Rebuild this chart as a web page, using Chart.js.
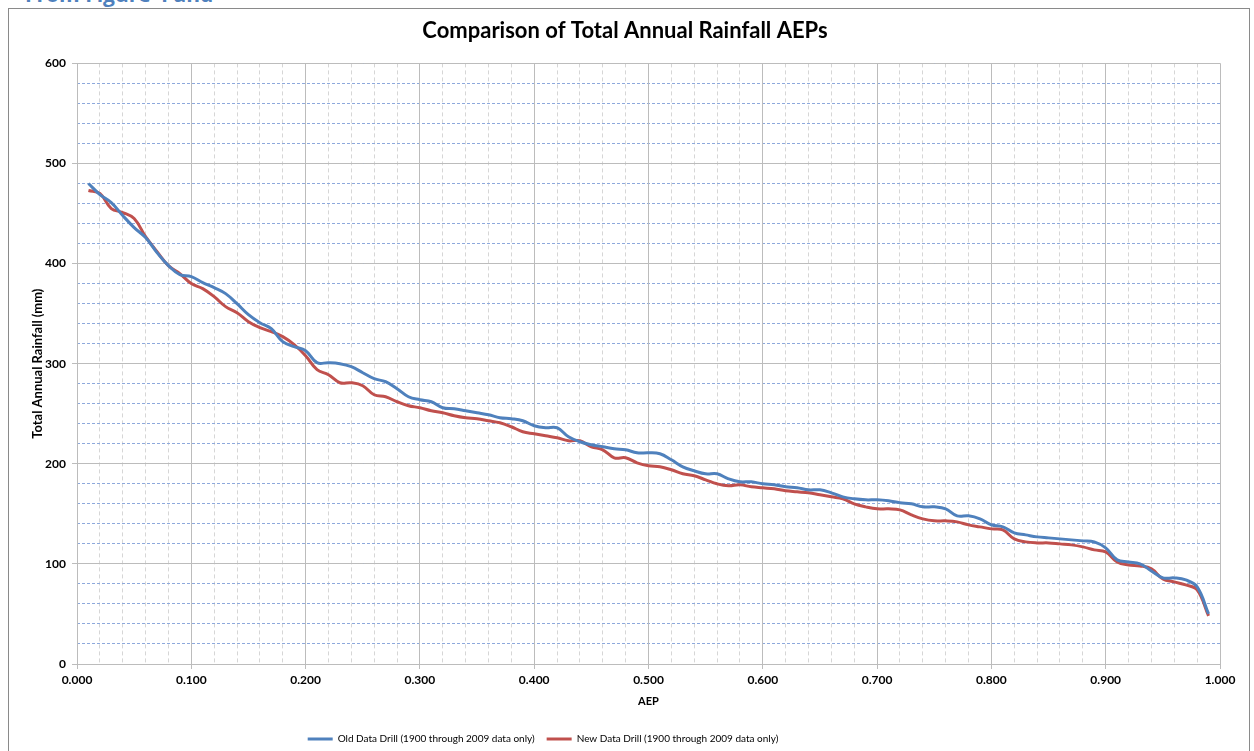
<!DOCTYPE html>
<html>
<head>
<meta charset="utf-8">
<script src="https://cdn.jsdelivr.net/npm/chart.js@4/dist/chart.umd.min.js"></script>
<style>
  html, body { margin: 0; padding: 0; background: #fff; width: 1254px; height: 751px; overflow: hidden; }
  #frame { position: absolute; left: 8px; top: 8px; width: 1242px; height: 760px; border: 1px solid #8a8a8a; box-sizing: border-box; }
  #caption { position: absolute; left: 25px; top: -20px; font: bold 21px "Open Sans", "Liberation Sans", sans-serif; color: #4f81bd; white-space: nowrap; }
  #wrap { position: absolute; left: 0; top: 0; width: 1254px; height: 751px; }
</style>
</head>
<body>
<div id="frame"></div>
<div id="caption">From Figure 4 and</div>
<div id="wrap"><canvas id="c" width="1254" height="751"></canvas></div>
<script>
const aep = [0.01,0.02,0.03,0.04,0.05,0.06,0.07,0.08,0.09,0.10,
  0.11,0.12,0.13,0.14,0.15,0.16,0.17,0.18,0.19,0.20,
  0.21,0.22,0.23,0.24,0.25,0.26,0.27,0.28,0.29,0.30,
  0.31,0.32,0.33,0.34,0.35,0.36,0.37,0.38,0.39,0.40,
  0.41,0.42,0.43,0.44,0.45,0.46,0.47,0.48,0.49,0.50,
  0.51,0.52,0.53,0.54,0.55,0.56,0.57,0.58,0.59,0.60,
  0.61,0.62,0.63,0.64,0.65,0.66,0.67,0.68,0.69,0.70,
  0.71,0.72,0.73,0.74,0.75,0.76,0.77,0.78,0.79,0.80,
  0.81,0.82,0.83,0.84,0.85,0.86,0.87,0.88,0.89,0.90,
  0.91,0.92,0.93,0.94,0.95,0.96,0.97,0.98,0.99];

const oldDrill = [480,469,461,448,436,426,411,398,389,387,
  381,376,370,360,349,341,335,322,317,313,
  301,301,300,297,291,285,282,275,267,264,
  262,256,255,253,251,249,246,245,243,238,
  236,236,227,222,219,217,215,214,211,211,
  210,204,197,193,190,190,185,182,182,180,
  179,177,176,174,174,171,167,165,164,164,
  163,161,160,157,157,155,148,148,145,139,
  137,131,129,127,126,125,124,123,122,116,
  104,102,100,93,86,86,84,77,50];

const newDrill = [473,470,455,451,445,427,412,398,390,380,
  375,367,357,351,342,336,332,327,319,308,
  294,289,281,281,278,269,267,262,258,256,
  253,251,248,246,245,243,241,237,232,230,
  228,226,223,223,217,214,206,206,201,198,
  197,194,190,188,184,180,178,179,177,176,
  175,173,172,171,169,167,165,160,157,155,
  155,154,149,145,143,143,142,139,137,135,
  134,125,122,121,121,120,119,117,114,112,
  102,99,98,95,85,82,79,74,48];

const seriesNames = ["Old Data Drill (1900 through 2009 data only)", "New Data Drill (1900 through 2009 data only)"];
const chartTitle = "Comparison of Total Annual Rainfall AEPs";
const xTitle = "AEP";
const yTitle = "Total Annual Rainfall (mm)";

const FONT = "Lato, 'Open Sans', 'Liberation Sans', sans-serif";

const legendShift = {
  id: 'legendShift',
  afterLayout(chart) {
    const lg = chart.legend;
    if (lg) { lg.left -= 82; lg.right -= 82; lg.top += 14; lg.bottom += 14; }
  }
};

new Chart(document.getElementById('c'), {
  type: 'line',
  data: {
    datasets: [
      { label: seriesNames[0], data: aep.map((x, i) => ({ x, y: oldDrill[i] })),
        borderColor: '#4f81bd', backgroundColor: '#4f81bd', borderWidth: 3, pointRadius: 0, tension: 0.4, fill: false },
      { label: seriesNames[1], data: aep.map((x, i) => ({ x, y: newDrill[i] })),
        borderColor: '#c0504d', backgroundColor: '#c0504d', borderWidth: 3, pointRadius: 0, tension: 0.4, fill: false }
    ]
  },
  options: {
    responsive: false,
    animation: false,
    layout: { padding: { left: 30, right: 34, top: 5, bottom: 11 } },
    plugins: {
      title: { display: true, text: chartTitle, color: '#000', font: { family: FONT, size: 22, weight: 'bold' }, padding: { top: 13, bottom: 19 } },
      legend: {
        position: 'bottom',
        labels: { color: '#000', font: { family: FONT, size: 10 }, usePointStyle: true, pointStyle: 'line', pointStyleWidth: 25, padding: 12 }
      },
      tooltip: { enabled: false }
    },
    scales: {
      x2: {
        type: 'linear', min: 0, max: 1, position: 'bottom',
        ticks: { display: false, stepSize: 0.02 },
        grid: { color: '#d6d6d6', lineWidth: 1, drawTicks: false, z: -1 },
        border: { display: false, dash: [4, 3] },
        afterFit: s => { s.height = 0; }
      },
      y2: {
        type: 'linear', min: 0, max: 600, position: 'left',
        ticks: { display: false, stepSize: 20 },
        grid: { color: '#8ea9dc', lineWidth: 1, drawTicks: false, z: -1 },
        border: { display: false, dash: [3, 2] },
        afterFit: s => { s.width = 0; }
      },
      x: {
        type: 'linear', min: 0, max: 1, position: 'bottom',
        ticks: { stepSize: 0.1, color: '#000', font: { family: FONT, size: 12, weight: 'bold' }, callback: v => Number(v).toFixed(3), maxRotation: 0, padding: 4 },
        grid: { color: '#bcbcbc', lineWidth: 1, tickLength: 5 },
        border: { display: true, color: '#bcbcbc' },
        title: { display: true, text: xTitle, color: '#000', font: { family: FONT, size: 11, weight: 'bold' }, padding: { top: 6, bottom: 0 } },
        afterFit: s => { s.height = 44; }
      },
      y: {
        type: 'linear', min: 0, max: 600, position: 'left',
        ticks: { stepSize: 100, color: '#000', font: { family: FONT, size: 12, weight: 'bold' }, padding: 6 },
        grid: { color: '#bcbcbc', lineWidth: 1, tickLength: 5 },
        border: { display: true, color: '#bcbcbc' },
        title: { display: true, text: yTitle, color: '#000', font: { family: FONT, size: 13, weight: 'bold' }, padding: { top: 0, bottom: 4 } },
        afterFit: s => { s.width = 47; }
      }
    }
  },
  plugins: [legendShift]
});
</script>
</body>
</html>
